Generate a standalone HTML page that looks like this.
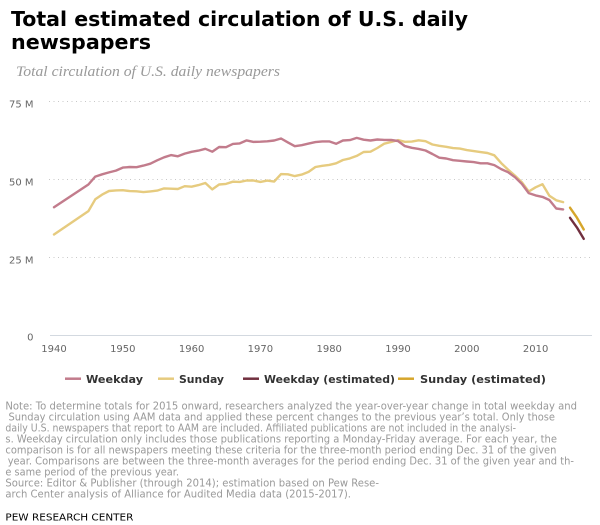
<!DOCTYPE html>
<html><head><meta charset="utf-8"><style>
html,body{margin:0;padding:0;background:#fff;}
svg{display:block;}
</style></head><body>
<svg width="600" height="525" viewBox="0 0 600 525" xmlns="http://www.w3.org/2000/svg">
<rect width="600" height="525" fill="#fff"/>
<g font-family="'DejaVu Sans', 'Liberation Sans', sans-serif" font-weight="bold" fill="#000" font-size="20.4">
<text x="11" y="26" textLength="457" lengthAdjust="spacingAndGlyphs">Total estimated circulation of U.S. daily</text>
<text x="11" y="49" textLength="140" lengthAdjust="spacingAndGlyphs">newspapers</text>
</g>
<text x="16" y="76" font-family="'Liberation Serif', serif" font-style="italic" font-size="15" fill="#999" textLength="264" lengthAdjust="spacingAndGlyphs">Total circulation of U.S. daily newspapers</text>

<g stroke="#c8c8c8" stroke-width="1" stroke-dasharray="1,3.5">
<line x1="49" y1="101.5" x2="590" y2="101.5"/>
<line x1="49" y1="179.5" x2="590" y2="179.5"/>
<line x1="49" y1="257.5" x2="590" y2="257.5"/>
</g>
<line x1="50" y1="335.5" x2="592" y2="335.5" stroke="#d3d9e0" stroke-width="1"/>

<g font-family="'DejaVu Sans', 'Liberation Sans', sans-serif" font-size="10" fill="#666" text-anchor="end">
<text x="33.5" y="107.3">75 M</text>
<text x="33.5" y="185.3">50 M</text>
<text x="33.5" y="263.3">25 M</text>
<text x="33.5" y="340.5">0</text>
</g>
<g font-family="'DejaVu Sans', 'Liberation Sans', sans-serif" font-size="10" fill="#666" text-anchor="middle">
<text x="54" y="352">1940</text>
<text x="122.8" y="352">1950</text>
<text x="191.6" y="352">1960</text>
<text x="260.4" y="352">1970</text>
<text x="329.2" y="352">1980</text>
<text x="398" y="352">1990</text>
<text x="466.8" y="352">2000</text>
<text x="535.6" y="352">2010</text>
</g>

<g fill="none" stroke-width="2.4" stroke-linejoin="round" stroke-linecap="round">
<polyline stroke="#e6cb7f" points="54,234.5 88.4,211.1 95.28,199.3 102.16,194.6 109.04,191.0 115.92,190.4 122.8,190.2 129.68,191.1 136.56,191.3 143.44,192.1 150.32,191.4 157.2,190.6 164.08,188.4 170.96,188.7 177.84,189.0 184.72,186.2 191.6,186.7 198.48,185.1 205.36,183.0 212.24,189.4 219.12,184.5 226,183.9 232.88,181.7 239.76,181.9 246.64,180.5 253.52,180.5 260.4,181.9 267.28,180.6 274.16,181.6 281.04,174.1 287.92,174.3 294.8,176.1 301.68,174.6 308.56,171.9 315.44,167.0 322.32,165.8 329.2,164.9 336.08,163.3 342.96,160.0 349.84,158.4 356.72,155.9 363.6,152.0 370.48,151.7 377.36,148.0 384.24,143.7 391.12,142.0 398,140.1 404.88,141.8 411.76,141.6 418.64,140.3 425.52,141.2 432.4,144.5 439.28,145.8 446.16,146.8 453.04,148.1 459.92,148.6 466.8,150.1 473.68,151.1 480.56,152.1 487.44,153.0 494.32,155.3 501.2,163.1 508.08,169.6 514.96,175.6 521.84,182.2 528.72,191.5 535.6,187.3 542.48,184.2 549.36,195.7 556.24,200.3 563.12,202.1"/>
<polyline stroke="#c27c8c" points="54,207.2 88.4,184.5 95.28,176.6 102.16,174.3 109.04,172.4 115.92,170.6 122.8,167.6 129.68,167.0 136.56,167.2 143.44,165.6 150.32,163.7 157.2,160.3 164.08,157.3 170.96,155.1 177.84,156.3 184.72,153.6 191.6,151.8 198.48,150.6 205.36,148.8 212.24,151.7 219.12,147.0 226,147.2 232.88,143.9 239.76,143.4 246.64,140.4 253.52,141.9 260.4,141.7 267.28,141.3 274.16,140.5 281.04,138.5 287.92,142.4 294.8,146.2 301.68,145.2 308.56,143.6 315.44,142.1 322.32,141.4 329.2,141.4 336.08,143.8 342.96,140.5 349.84,140.1 356.72,137.9 363.6,139.7 370.48,140.5 377.36,139.5 384.24,139.9 391.12,140.0 398,141.0 404.88,146.1 411.76,147.8 418.64,148.9 425.52,150.5 432.4,154.0 439.28,157.7 446.16,158.5 453.04,160.2 459.92,160.8 466.8,161.5 473.68,162.1 480.56,163.3 487.44,163.3 494.32,165.1 501.2,169.1 508.08,172.2 514.96,177.2 521.84,183.9 528.72,193.1 535.6,195.4 542.48,196.9 549.36,200.0 556.24,208.5 563.12,209.4"/>
<polyline stroke="#d6a62c" points="570,207.7 576.88,217.6 583.76,229.5"/>
<polyline stroke="#71303f" points="570,217.8 576.88,227.4 583.76,238.9"/>
</g>

<g stroke-width="2.5">
<line x1="65" y1="378.7" x2="81" y2="378.7" stroke="#c27c8c"/>
<line x1="158" y1="378.7" x2="174" y2="378.7" stroke="#e6cb7f"/>
<line x1="243" y1="378.7" x2="259" y2="378.7" stroke="#71303f"/>
<line x1="398" y1="378.7" x2="414" y2="378.7" stroke="#d6a62c"/>
</g>
<g font-family="'DejaVu Sans', 'Liberation Sans', sans-serif" font-size="11" font-weight="bold" fill="#333">
<text x="86" y="382.8" textLength="57" lengthAdjust="spacingAndGlyphs">Weekday</text>
<text x="179" y="382.8" textLength="45" lengthAdjust="spacingAndGlyphs">Sunday</text>
<text x="264" y="382.8" textLength="131" lengthAdjust="spacingAndGlyphs">Weekday (estimated)</text>
<text x="420" y="382.8" textLength="126" lengthAdjust="spacingAndGlyphs">Sunday (estimated)</text>
</g>

<g font-family="'DejaVu Sans', 'Liberation Sans', sans-serif" font-size="10.3" fill="#999">
<text x="5.4" y="409.5" textLength="571.6" lengthAdjust="spacingAndGlyphs">Note: To determine totals for 2015 onward, researchers analyzed the year-over-year change in total weekday and</text>
<text x="8.5" y="420.5" textLength="546.5" lengthAdjust="spacingAndGlyphs">Sunday circulation using AAM data and applied these percent changes to the previous year’s total. Only those</text>
<text x="5.4" y="431.5" textLength="510.6" lengthAdjust="spacingAndGlyphs">daily U.S. newspapers that report to AAM are included. Affiliated publications are not included in the analysi-</text>
<text x="5.4" y="442.5" textLength="551.6" lengthAdjust="spacingAndGlyphs">s. Weekday circulation only includes those publications reporting a Monday-Friday average. For each year, the</text>
<text x="5.4" y="453.5" textLength="551" lengthAdjust="spacingAndGlyphs">comparison is for all newspapers meeting these criteria for the three-month period ending Dec. 31 of the given</text>
<text x="7.7" y="464.5" textLength="566.3" lengthAdjust="spacingAndGlyphs">year. Comparisons are between the three-month averages for the period ending Dec. 31 of the given year and th-</text>
<text x="5.4" y="475.5" textLength="173.6" lengthAdjust="spacingAndGlyphs">e same period of the previous year.</text>
<text x="5.4" y="486.5" textLength="373.6" lengthAdjust="spacingAndGlyphs">Source: Editor &amp; Publisher (through 2014); estimation based on Pew Rese-</text>
<text x="5.4" y="497.5" textLength="345.6" lengthAdjust="spacingAndGlyphs">arch Center analysis of Alliance for Audited Media data (2015-2017).</text>
</g>
<text x="5.4" y="520.5" font-family="'DejaVu Sans', 'Liberation Sans', sans-serif" font-size="10" fill="#000" textLength="128" lengthAdjust="spacingAndGlyphs">PEW RESEARCH CENTER</text>
</svg>
</body></html>
